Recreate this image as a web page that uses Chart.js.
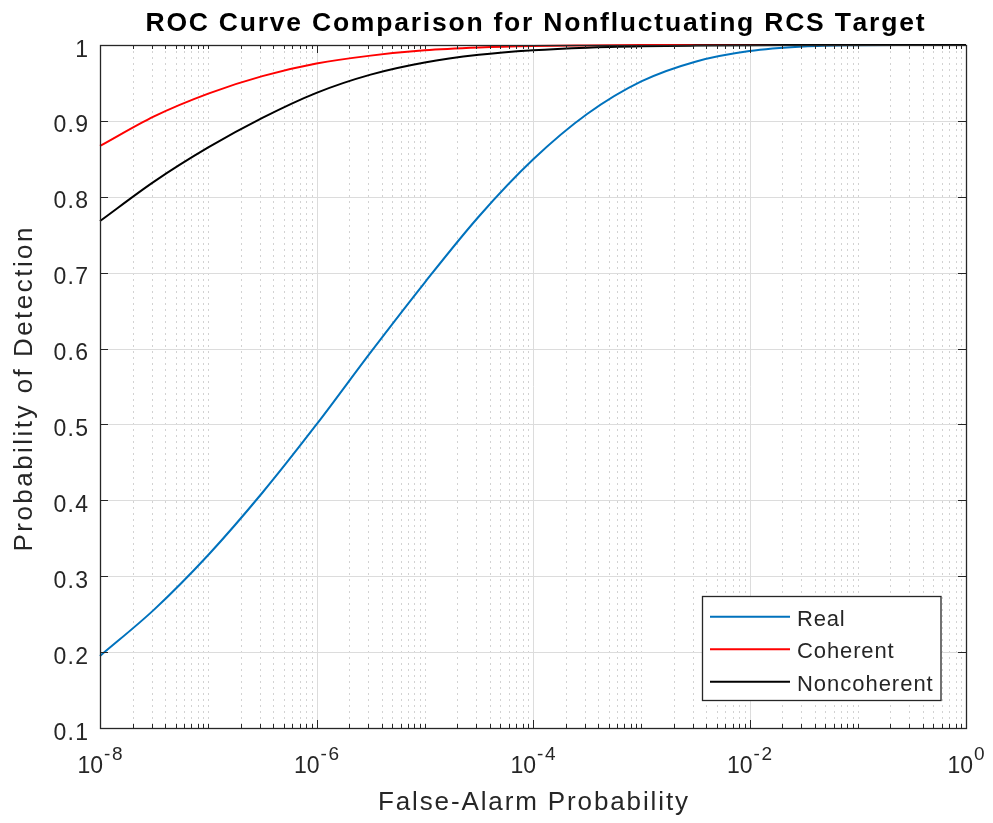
<!DOCTYPE html>
<html>
<head>
<meta charset="utf-8">
<script src="https://cdn.jsdelivr.net/npm/chart.js@4/dist/chart.umd.min.js"></script>
<style>
html,body{margin:0;padding:0;background:#ffffff;}
#wrap{width:993px;height:823px;}
</style>
</head>
<body>
<div id="wrap"><canvas id="c" width="993" height="823"></canvas></div>
<script>
// ---------- data ----------
const falseAlarmProb = [1e-8, 3.16e-8, 1e-7, 3.16e-7, 1e-6, 3.16e-6, 1e-5, 3.16e-5, 1e-4, 3.16e-4, 1e-3, 3.16e-3, 1e-2, 3.16e-2, 1e-1, 3.16e-1, 1];
const pdReal        = [0.195, 0.256, 0.328, 0.410, 0.500, 0.595, 0.687, 0.774, 0.849, 0.909, 0.952, 0.978, 0.992, 0.998, 0.9997, 1.0, 1.0];
const pdCoherent    = [0.867, 0.906, 0.936, 0.959, 0.9755, 0.986, 0.993, 0.9967, 0.9987, 0.9995, 0.9999, 1.0, 1.0, 1.0, 1.0, 1.0, 1.0];
const pdNoncoherent = [0.768, 0.820, 0.865, 0.904, 0.937, 0.961, 0.977, 0.987, 0.993, 0.9965, 0.9983, 0.9992, 0.9997, 0.9999, 1.0, 1.0, 1.0];
const seriesNames   = ['Real', 'Coherent', 'Noncoherent'];

const xMajorTicks   = [1e-8, 1e-6, 1e-4, 1e-2, 1];
const xTickBase     = ['10', '10', '10', '10', '10'];
const xTickExp      = ['-8', '-6', '-4', '-2', '0'];
const yTicks        = [0.1, 0.2, 0.3, 0.4, 0.5, 0.6, 0.7, 0.8, 0.9, 1];
const yTickLabels   = ['0.1', '0.2', '0.3', '0.4', '0.5', '0.6', '0.7', '0.8', '0.9', '1'];

const titleText = 'ROC Curve Comparison for Nonfluctuating RCS Target';
const xTitleText = 'False-Alarm Probability';
const yTitleText = 'Probability of Detection';

// ---------- styles ----------
const COLORS = ['#0072BD', '#FF0000', '#000000'];
const FONT = "'Liberation Sans', Arial, Helvetica, sans-serif";
const AXIS_COLOR = '#262626';

// minor tick values on the log axis (decade subdivisions)
const xMinorTicks = [];
for (let e = -8; e < 0; e++) {
  for (let k = 1; k <= 9; k++) {
    if (k === 1 && e % 2 === 0) continue;
    xMinorTicks.push(k * Math.pow(10, e));
  }
}

function spacedText(ctx, text, x, y, opt) {
  const chars = Array.from(text);
  const widths = chars.map(c => ctx.measureText(c).width);
  const natural = widths.reduce((a, b) => a + b, 0);
  let gap = opt.gap || 0;
  if (opt.width && chars.length > 1) gap = (opt.width - natural) / (chars.length - 1);
  const total = natural + gap * (chars.length - 1);
  let start = x;
  if (opt.align === 'center') start = x - total / 2;
  else if (opt.align === 'right') start = x - total;
  ctx.textAlign = 'left';
  chars.forEach((c, i) => { ctx.fillText(c, start, y); start += widths[i] + gap; });
  return total;
}

const matlabAxes = {
  id: 'matlabAxes',
  beforeDatasetsDraw(chart) {
    const ctx = chart.ctx;
    const {left, right, top, bottom} = chart.chartArea;
    const xs = chart.scales.x, ys = chart.scales.y;
    ctx.save();
    ctx.lineWidth = 1;
    // minor x grid (dotted)
    ctx.strokeStyle = '#d2d2d2';
    ctx.setLineDash([2, 4]);
    xMinorTicks.forEach(v => {
      const px = Math.round(xs.getPixelForValue(v)) + 0.5;
      ctx.beginPath(); ctx.moveTo(px, top); ctx.lineTo(px, bottom); ctx.stroke();
    });
    ctx.setLineDash([]);
    // major grid
    ctx.strokeStyle = '#dcdcdc';
    xMajorTicks.forEach(v => {
      const px = Math.round(xs.getPixelForValue(v)) + 0.5;
      ctx.beginPath(); ctx.moveTo(px, top); ctx.lineTo(px, bottom); ctx.stroke();
    });
    yTicks.forEach(v => {
      const py = Math.round(ys.getPixelForValue(v)) + 0.5;
      ctx.beginPath(); ctx.moveTo(left, py); ctx.lineTo(right, py); ctx.stroke();
    });
    ctx.restore();
  },
  afterDatasetsDraw(chart) {
    const ctx = chart.ctx;
    const {left, right, top, bottom} = chart.chartArea;
    const xs = chart.scales.x, ys = chart.scales.y;
    ctx.save();
    ctx.strokeStyle = AXIS_COLOR;
    ctx.lineWidth = 1;
    // tick marks (inward, all four sides)
    ctx.beginPath();
    xMajorTicks.forEach(v => {
      const px = Math.round(xs.getPixelForValue(v)) + 0.5;
      ctx.moveTo(px, bottom); ctx.lineTo(px, bottom - 8);
      ctx.moveTo(px, top); ctx.lineTo(px, top + 8);
    });
    xMinorTicks.forEach(v => {
      const px = Math.round(xs.getPixelForValue(v)) + 0.5;
      ctx.moveTo(px, bottom); ctx.lineTo(px, bottom - 4);
      ctx.moveTo(px, top); ctx.lineTo(px, top + 4);
    });
    yTicks.forEach(v => {
      const py = Math.round(ys.getPixelForValue(v)) + 0.5;
      ctx.moveTo(left, py); ctx.lineTo(left + 8, py);
      ctx.moveTo(right, py); ctx.lineTo(right - 8, py);
    });
    ctx.stroke();
    // box
    ctx.lineWidth = 1.3;
    ctx.strokeRect(Math.round(left) + 0.5, Math.round(top) + 0.5, Math.round(right - left), Math.round(bottom - top));

    // y tick labels
    ctx.fillStyle = AXIS_COLOR;
    ctx.textBaseline = 'alphabetic';
    ctx.font = '23px ' + FONT;
    yTicks.forEach((v, i) => {
      const py = ys.getPixelForValue(v);
      spacedText(ctx, yTickLabels[i], left - 12, py + 11.5, {align: 'right', gap: 1.3});
    });
    // x tick labels with superscript exponents
    xMajorTicks.forEach((v, i) => {
      const px = xs.getPixelForValue(v);
      ctx.font = '23px ' + FONT;
      const wb = ctx.measureText(xTickBase[i]).width;
      ctx.font = '19px ' + FONT;
      const expChars = Array.from(xTickExp[i]);
      const we = expChars.reduce((a, c) => a + ctx.measureText(c).width, 0) + 1.5 * (expChars.length - 1) + 1;
      const start = px - (wb + we) / 2;
      ctx.font = '23px ' + FONT;
      spacedText(ctx, xTickBase[i], start, bottom + 45, {align: 'left'});
      ctx.font = '19px ' + FONT;
      spacedText(ctx, xTickExp[i], start + wb + 1, bottom + 32, {align: 'left', gap: 1.5});
    });
    // axis titles
    ctx.font = '26px ' + FONT;
    spacedText(ctx, xTitleText, (left + right) / 2, 810, {align: 'center', width: 310});
    ctx.save();
    ctx.translate(32, (top + bottom) / 2 + 3);
    ctx.rotate(-Math.PI / 2);
    spacedText(ctx, yTitleText, 0, 0, {align: 'center', width: 324});
    ctx.restore();
    // title
    ctx.fillStyle = '#000000';
    ctx.font = 'bold 26.5px ' + FONT;
    spacedText(ctx, titleText, (left + right) / 2 + 2, 31, {align: 'center', width: 779});

    // legend
    const lx0 = 702.5, ly0 = 596.5, lw = 238.5, lh = 104;
    ctx.fillStyle = '#ffffff';
    ctx.fillRect(lx0, ly0, lw, lh);
    ctx.strokeStyle = AXIS_COLOR;
    ctx.lineWidth = 1.3;
    ctx.strokeRect(lx0, ly0, lw, lh);
    const rows = [616.7, 649.3, 681.7];
    const legendWidths = [47.7, 96.7, 135.7];
    chart.data.datasets.forEach((ds, i) => {
      ctx.strokeStyle = ds.borderColor;
      ctx.lineWidth = 2;
      ctx.beginPath(); ctx.moveTo(710, rows[i]); ctx.lineTo(790, rows[i]); ctx.stroke();
      ctx.fillStyle = AXIS_COLOR;
      ctx.font = '22px ' + FONT;
      spacedText(ctx, ds.label, 797, rows[i] + 9, {align: 'left', width: legendWidths[i]});
    });
    ctx.restore();
  }
};

function toPoints(ys) { return falseAlarmProb.map((p, i) => ({x: p, y: ys[i]})); }

new Chart(document.getElementById('c'), {
  type: 'line',
  data: {
    datasets: [
      {label: seriesNames[0], data: toPoints(pdReal), borderColor: COLORS[0], order: 3},
      {label: seriesNames[1], data: toPoints(pdCoherent), borderColor: COLORS[1], order: 2},
      {label: seriesNames[2], data: toPoints(pdNoncoherent), borderColor: COLORS[2], order: 1}
    ].map(d => Object.assign(d, {borderWidth: 2, pointRadius: 0, fill: false, cubicInterpolationMode: 'monotone', clip: false}))
  },
  options: {
    responsive: false,
    animation: false,
    devicePixelRatio: 1,
    layout: {padding: {left: 100, right: 27, top: 45, bottom: 95}},
    plugins: {legend: {display: false}, title: {display: false}, tooltip: {enabled: false}},
    scales: {
      x: {type: 'logarithmic', min: 1e-8, max: 1, display: false},
      y: {type: 'linear', min: 0.1, max: 1, display: false}
    }
  },
  plugins: [matlabAxes]
});
</script>
</body>
</html>
